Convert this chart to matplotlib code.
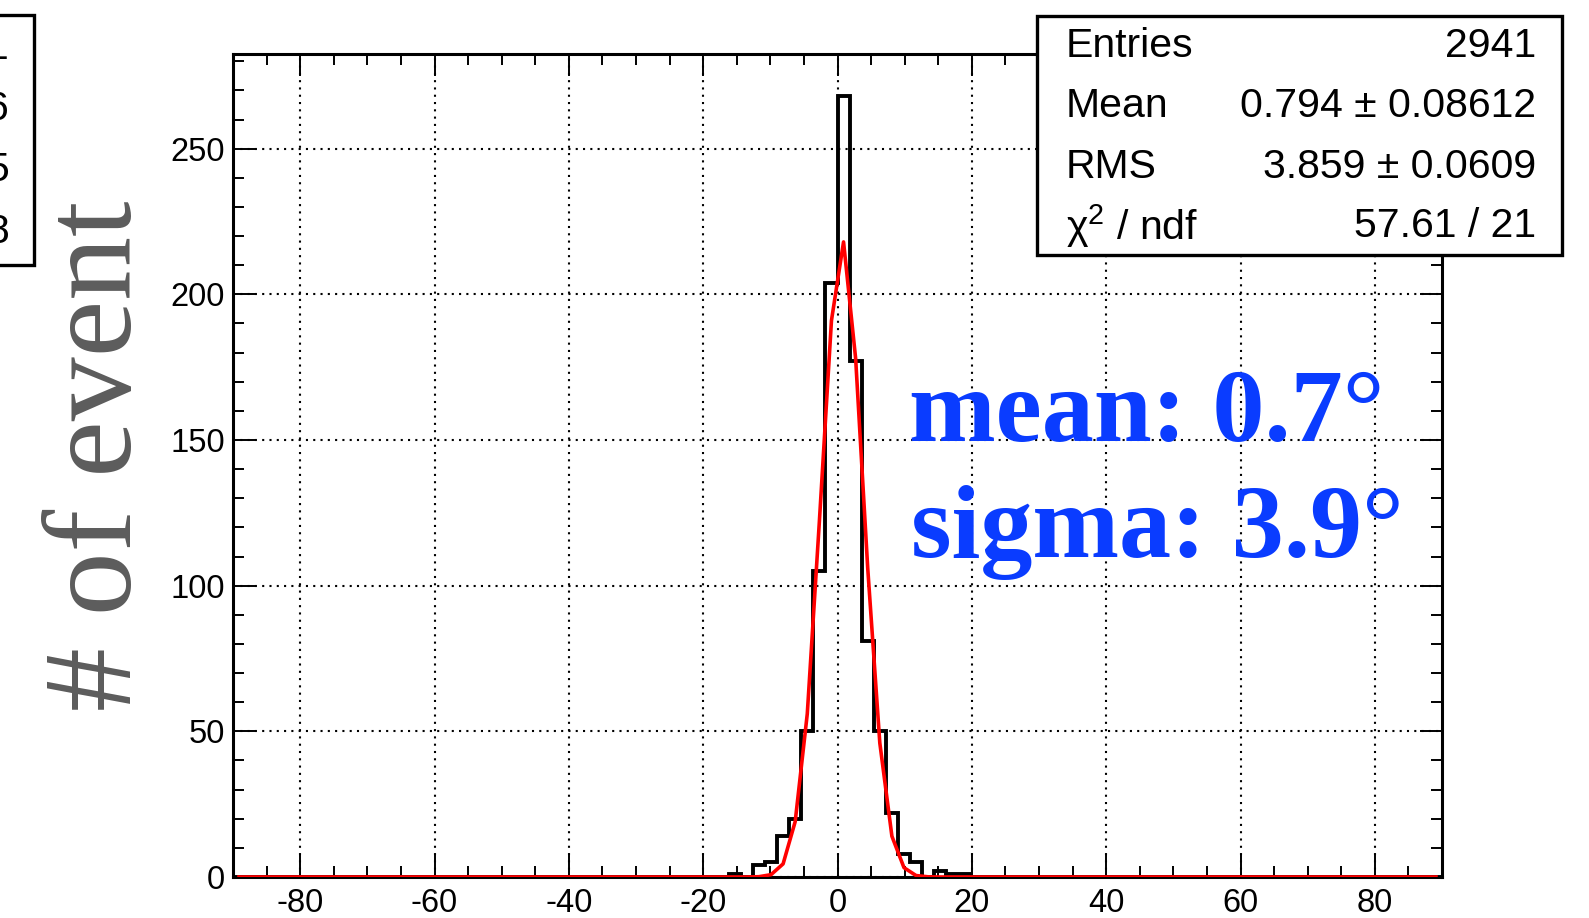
import numpy as np
import matplotlib
matplotlib.use("Agg")
import matplotlib.pyplot as plt
from matplotlib.patches import Rectangle

plt.rcParams["axes.unicode_minus"] = False
plt.rcParams["mathtext.fontset"] = "custom"
plt.rcParams["mathtext.rm"] = "Liberation Sans"
plt.rcParams["mathtext.it"] = "Liberation Sans"

# histogram: 100 bins of 1.8 from -90 to 90, only the core is non-empty
bin_lo, bin_hi, n_bins = -90, 90, 100
core_start = -16.2
core_counts = [1, 0, 4, 5, 14, 20, 50, 105, 204, 268,
               177, 81, 50, 22, 8, 5, 0, 2, 1, 1]

# gaussian fit curve as drawn (vertices at bin centres)
fit_x = [-89.1, -13.5, -11.7, -9.9, -8.1, -6.3, -4.5, -2.7, -0.9, 0.9,
         2.7, 4.5, 6.3, 8.1, 9.9, 11.7, 13.5, 15.3, 89.1]
fit_y = [0, 0.0, 0.1, 0.8, 4.5, 19, 56, 122, 191, 218,
         178, 106, 46, 14, 3.2, 0.5, 0.06, 0, 0]

stat_names = ["Entries", "Mean", "RMS", r"$\mathregular{\chi^{2}}$ / ndf"]
stat_values = ["2941", "0.794 \u00b1 0.08612", "3.859 \u00b1 0.0609", "57.61 / 21"]
left_box_digits = ["1", "6", "5", "8"]

x_ticks = [-80, -60, -40, -20, 0, 20, 40, 60, 80]
y_ticks = [0, 50, 100, 150, 200, 250]

W, H = 1589, 918
sans = "Liberation Sans"
serif = "Liberation Serif"

edges = np.linspace(bin_lo, bin_hi, n_bins + 1)
counts = np.zeros(n_bins)
i0 = int(round((core_start - bin_lo) / ((bin_hi - bin_lo) / n_bins)))
counts[i0:i0 + len(core_counts)] = core_counts

fig = plt.figure(figsize=(W / 100, H / 100), dpi=100)
ax = fig.add_axes([233 / W, 1 - 877 / H, (1442 - 233) / W, (877 - 54) / H])

ax.stairs(counts, edges, color="black", lw=2.8, zorder=2)
ax.plot(fit_x, fit_y, color="#ff0000", lw=2.6, zorder=3)

ax.set_xlim(bin_lo, bin_hi)
ax.set_ylim(0, 282.5)
ax.set_xticks(x_ticks)
ax.set_yticks(y_ticks)
ax.set_xticks(np.arange(-85, 90, 5), minor=True)
ax.set_yticks(np.arange(10, 281, 10), minor=True)
ax.tick_params(which="both", direction="in", top=True, right=True, width=1.4)
ax.tick_params(which="major", length=16)
ax.tick_params(which="minor", length=8)
ax.tick_params(axis="x", pad=8)
ax.tick_params(axis="y", pad=6)
for lab in ax.get_xticklabels() + ax.get_yticklabels():
    lab.set_fontfamily(sans)
    lab.set_fontsize(23.5)
for sp in ax.spines.values():
    sp.set_linewidth(2.2)
ax.grid(True, which="major", color="black", lw=1.5, ls=(0, (1, 2.5)), zorder=1)
ax.set_axisbelow(True)

# y label
fig.text(100 / W, 1 - 456 / H, "# of event", rotation=90, ha="center", va="center",
         family=serif, fontsize=92, color="#5c5c5c")

# blue annotations
fig.text(909 / W, 1 - 441 / H, "mean: 0.7\u00b0", ha="left", va="baseline",
         family=serif, fontweight="bold", fontsize=75, color="#0a3cff")
fig.text(911 / W, 1 - 557 / H, "sigma: 3.9\u00b0", ha="left", va="baseline",
         family=serif, fontweight="bold", fontsize=75, color="#0a3cff")

# stat box (top right)
fig.patches.append(Rectangle((1037 / W, 1 - 255 / H), (1562 - 1037) / W, (255 - 16) / H,
                             transform=fig.transFigure, facecolor="white",
                             edgecolor="black", lw=2.4, zorder=5))
row_y = [46, 106, 167, 226]
for name, val, yy in zip(stat_names, stat_values, row_y):
    fig.text(1066 / W, 1 - yy / H, name, ha="left", va="center", family=sans,
             fontsize=29.5, zorder=6)
    fig.text(1536 / W, 1 - yy / H, val, ha="right", va="center", family=sans,
             fontsize=29.5, zorder=6)

# partially visible stat box on the left edge
fig.patches.append(Rectangle((-20 / W, 1 - 265 / H), (34 + 20) / W, (265 - 15) / H,
                             transform=fig.transFigure, facecolor="white",
                             edgecolor="black", lw=2.4, zorder=5))
for d, yy in zip(left_box_digits, [48, 109, 170, 232]):
    fig.text(9 / W, 1 - yy / H, d, ha="right", va="center", family=sans,
             fontsize=29.5, zorder=6)

fig.savefig("out.png", dpi=100)
